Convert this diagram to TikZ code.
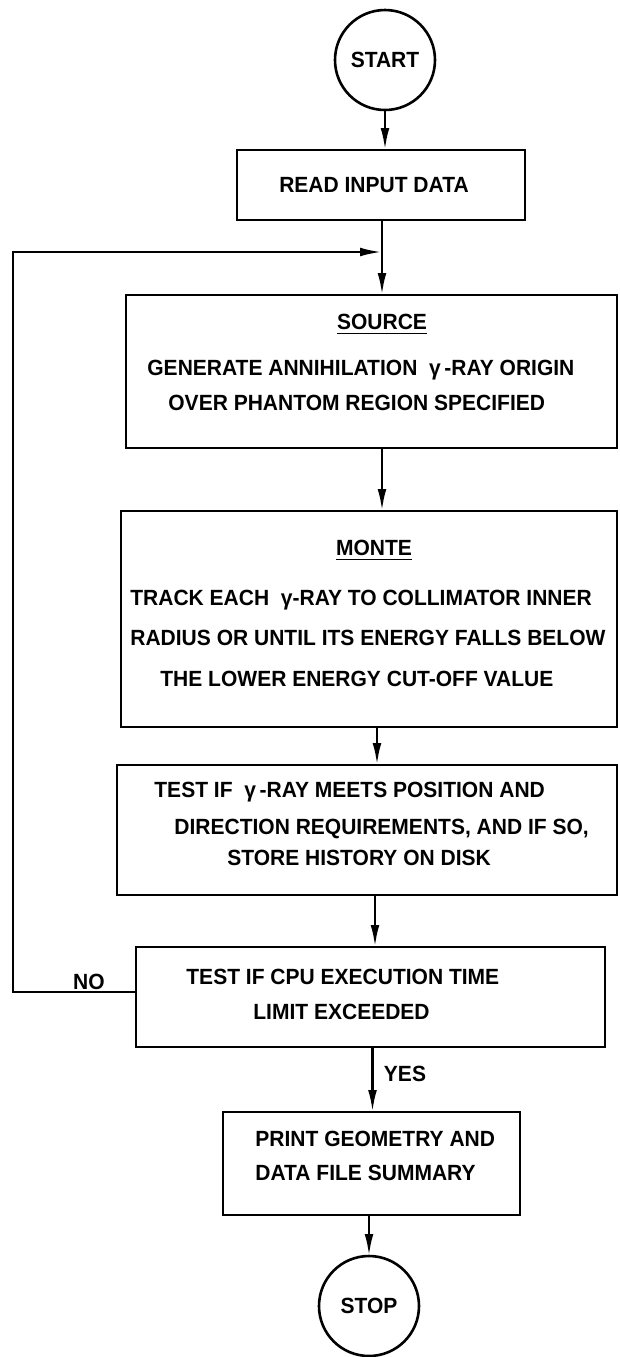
\documentclass[tikz,border=0pt]{standalone}
\usepackage{fontspec}
\setmainfont{Liberation Sans}[FakeStretch=0.955]
\usetikzlibrary{arrows.meta}
\begin{document}
\begin{tikzpicture}[x=0.5pt,y=-0.5pt,
  lbl/.style={font=\bfseries\fontsize{11}{13}\selectfont},
  box/.style={draw, rectangle, line width=1.3pt, inner sep=0pt, outer sep=0pt},
  term/.style={draw, circle, line width=1.3pt, inner sep=0pt, outer sep=0pt, minimum size=50pt, lbl},
  txt/.style={anchor=west, inner sep=0pt, text height=7.9pt, text depth=0pt, lbl},
  ctxt/.style={txt, anchor=center},
  ln/.style={line width=1.3pt},
  arr/.style={line width=1.3pt, -{Latex[length=11pt,width=4.4pt]}}]
\useasboundingbox (0,0) rectangle (620,1357);
% terminals
\node[term] (start) at (385,60) {START};
\node[term] (stop) at (369,1306) {STOP};
% boxes
\node[box, minimum width=144pt, minimum height=35pt] (read) at (381,185) {};
\node[box, minimum width=245.5pt, minimum height=76.5pt] (source) at (371.5,371.5) {};
\node[box, minimum width=248pt, minimum height=108pt] (monte) at (369,619) {};
\node[box, minimum width=250pt, minimum height=65pt] (test) at (367,830) {};
\node[box, minimum width=234.5pt, minimum height=50pt] (cpu) at (370.5,997) {};
\node[box, minimum width=148.5pt, minimum height=51.5pt] (print) at (371.5,1163.5) {};
% texts
\node[ctxt] (readt) at (374,185) {READ INPUT DATA};
\node[ctxt] (sourcet) at (382,322) {\underline{SOURCE}};
\node[txt] (source1) at (147,368) {GENERATE ANNIHILATION~~γ\,-RAY ORIGIN};
\node[txt] (source2) at (168,403) {OVER PHANTOM REGION SPECIFIED};
\node[ctxt] (montet) at (374,548) {\underline{MONTE}};
\node[txt] (monte1) at (130,598) {TRACK EACH~~γ-RAY TO COLLIMATOR INNER};
\node[txt] (monte2) at (130,638) {RADIUS OR UNTIL ITS ENERGY FALLS BELOW};
\node[txt] (monte3) at (160,679) {THE LOWER ENERGY CUT-OFF VALUE};
\node[txt] (test1) at (154,790) {TEST IF~~γ\,-RAY MEETS POSITION AND};
\node[txt] (test2) at (174,827) {DIRECTION REQUIREMENTS, AND IF SO,};
\node[txt] (test3) at (227,858) {STORE HISTORY ON DISK};
\node[txt] (cpu1) at (186,977) {TEST IF CPU EXECUTION TIME};
\node[txt] (cpu2) at (253,1012) {LIMIT EXCEEDED};
\node[txt] (print1) at (255,1139) {PRINT GEOMETRY AND};
\node[txt] (print2) at (255,1173) {DATA FILE SUMMARY};
\node[ctxt] (no) at (89,982) {NO};
\node[ctxt] (yes) at (405,1074) {YES};
% connectors
\coordinate (j) at (382,252);
\coordinate (lx) at (13,252);
\draw[arr] (start.south) -- (start.south |- read.north);
\draw[ln] (read.south -| j) -- (j);
\draw[arr] (j) -- (j |- source.north);
\draw[arr] ([yshift=2.5pt]cpu.west) -| (lx) -- (j);
\draw[arr] (source.south -| j) -- (monte.north -| j);
\draw[arr] ([xshift=4pt]monte.south) -- ([xshift=4pt]monte.south |- test.north);
\draw[arr] ([xshift=4pt]test.south) -- ([xshift=4pt]test.south |- cpu.north);
\draw[arr] ([xshift=1pt]cpu.south) -- ([xshift=1pt]cpu.south |- print.north);
\draw[arr] (print.south -| stop) -- (stop.north);
\end{tikzpicture}
\end{document}
